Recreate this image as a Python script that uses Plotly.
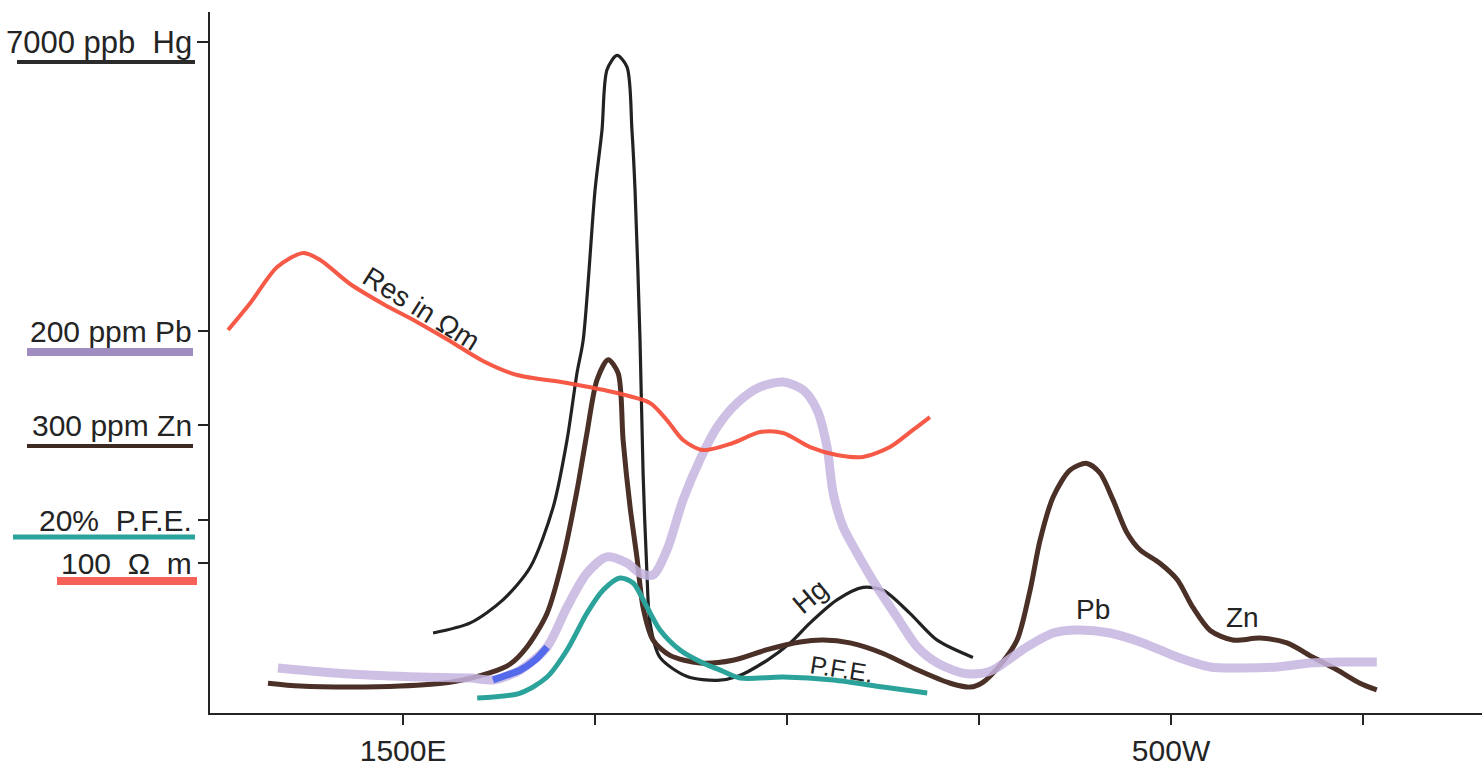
import plotly.graph_objects as go

# ---------------- data (station in m: east negative, west positive) ----------------
tick_stations = [-1500, -1000, -500, 0, 500, 1000]
tick_labels = ["1500E", "", "", "", "500W", ""]

# Hg (ppb)
hg_station = [-1422, -1325, -1240, -1169, -1109, -1073, -1047, -1031, -1000, -982, -969,
              -943, -917, -904, -896, -883, -875, -865, -857, -831, -760, -682, -630,
              -552, -492, -440, -370, -302, -250, -180, -109, -16]
hg_ppb = [835, 940, 1180, 1520, 2150, 2850, 3550, 3890, 5460, 6080, 6710,
          6860, 6740, 6080, 5460, 3890, 2500, 1460, 940, 580, 380, 340, 380,
          550, 730, 940, 1180, 1310, 1280, 1040, 760, 580]

# Zn (ppm)
zn_station = [-1852, -1768, -1638, -1508, -1378, -1273, -1221, -1177, -1125, -1083, -1047,
              -1021, -995, -966, -940, -927, -909, -891, -875, -849, -805, -727, -641,
              -552, -466, -406, -336, -250, -161, -75, -23, 10, 55, 99, 133, 159, 193,
              237, 281, 315, 349, 385, 419, 471, 516, 557, 602, 661, 732, 802, 870,
              932, 992, 1036]
zn_ppm = [31, 28, 27, 28, 32, 42, 51, 69, 104, 162, 232,
          292, 347, 368, 354, 284, 215, 162, 110, 76, 60, 52, 55,
          66, 74, 76, 73, 62, 45, 31, 27, 32, 50, 76, 128, 180, 225,
          253, 260, 250, 222, 188, 170, 156, 139, 110, 86, 76, 78, 73, 58,
          45, 31, 24]

# Pb (ppm)
pb_station = [-1826, -1638, -1456, -1325, -1266, -1195, -1125, -1073, -1021, -969, -917,
              -883, -849, -813, -771, -727, -682, -630, -570, -510, -458, -422, -396,
              -380, -354, -318, -266, -214, -161, -109, -42, 10, 36, 125, 193, 255,
              341, 427, 516, 602, 687, 776, 862, 948, 1036]
pb_ppm = [23.6, 20.4, 18.8, 18.3, 17.3, 22.5, 34.6, 55.5, 73.3, 81.7, 78.5,
          73.3, 72.3, 85.3, 111.5, 132.5, 149.7, 162.3, 170.7, 173.3, 169.1, 158.7, 139.3,
          115.2, 97.4, 83.8, 66.0, 50.3, 34.6, 26.2, 20.9, 20.9, 22.5, 34.6, 41.9, 43.5,
          41.9, 36.7, 29.3, 24.1, 23.6, 24.1, 26.2, 26.7, 26.7]

# Pb segment inked in blue (ppm)
pb_blue_station = [-1266, -1229, -1195, -1156, -1125]
pb_blue_ppm = [17.3, 19.9, 22.5, 27.8, 34.6]

# P.F.E. (%)
pfe_station = [-1307, -1195, -1125, -1073, -1021, -979, -935, -901, -865, -831, -779,
               -719, -674, -622, -510, -380, -250, -135]
pfe_pct = [1.55, 2.07, 3.73, 6.53, 10.36, 12.74, 13.99, 13.47, 10.98, 8.60, 6.53,
           5.18, 4.45, 3.63, 3.73, 3.42, 2.69, 2.07]

# Resistivity (ohm m)
res_station = [-1956, -1898, -1828, -1760, -1716, -1638, -1552, -1464, -1378, -1292, -1203,
               -1073, -943, -857, -813, -771, -719, -641, -570, -510, -440, -370, -302,
               -232, -172, -128]
res_ohm_m = [255.3, 273.3, 297.3, 306.7, 302.0, 286.0, 272.7, 260.7, 248.0, 234.7, 225.3,
             220.0, 213.3, 206.7, 195.3, 182.0, 175.3, 180.0, 187.3, 186.7, 177.3, 172.0, 170.7,
             177.3, 188.7, 197.3]

# scale reference values shown on the left
scale_hg, scale_pb, scale_zn, scale_pfe, scale_res = 7000, 200, 300, 20, 100

# ---------------- layout geometry (pixels of the 1482x767 page) ----------------
W, H = 1482, 767
L, R, T, B = 210, 0, 12, 54
PW, PH = W - L - R, H - T - B
AX_Y = H - B  # pixel row of the x axis


def px_x(px):
    return (px - L) / PW


def px_y(py):
    return (AX_Y - py) / PH


def top_of(value, tick_py):
    # axis range top so that `value` sits at pixel row tick_py
    return value * PH / (AX_Y - tick_py)


INK = "#242424"
FONT = "Liberation Sans"

fig = go.Figure()


def spline(color, width):
    return dict(color=color, width=width, shape="spline", smoothing=0.8)


fig.add_trace(go.Scatter(x=pb_station, y=pb_ppm, yaxis="y3", mode="lines",
                         line=spline("rgba(198,180,223,0.85)", 9), hoverinfo="skip"))
fig.add_trace(go.Scatter(x=pb_blue_station, y=pb_blue_ppm, yaxis="y3", mode="lines",
                         line=spline("rgba(55,85,235,0.8)", 7), hoverinfo="skip"))
fig.add_trace(go.Scatter(x=pfe_station, y=pfe_pct, yaxis="y4", mode="lines",
                         line=spline("#2ca39a", 5), hoverinfo="skip"))
fig.add_trace(go.Scatter(x=res_station, y=res_ohm_m, yaxis="y5", mode="lines",
                         line=spline("rgba(245,80,60,0.95)", 4), hoverinfo="skip"))
fig.add_trace(go.Scatter(x=zn_station, y=zn_ppm, yaxis="y2", mode="lines",
                         line=spline("#4a3027", 5), hoverinfo="skip"))
fig.add_trace(go.Scatter(x=hg_station, y=hg_ppb, yaxis="y", mode="lines",
                         line=spline("#222222", 3.2), hoverinfo="skip"))


def yax(rng, tick, main=False):
    d = dict(range=[0, rng], tickvals=[tick], ticks="outside", ticklen=11, tickwidth=2,
             tickcolor=INK, showticklabels=False, showgrid=False, zeroline=False,
             fixedrange=True)
    if main:
        d.update(showline=True, linecolor=INK, linewidth=2)
    else:
        d.update(overlaying="y", side="left", showline=False)
    return d


fig.update_layout(
    width=W, height=H,
    margin=dict(l=L, r=R, t=T, b=B, pad=0),
    paper_bgcolor="white", plot_bgcolor="white",
    showlegend=False,
    font=dict(family=FONT, color=INK),
    xaxis=dict(range=[-2003, 1310], tickvals=tick_stations, ticktext=tick_labels,
               ticks="outside", ticklen=10, tickwidth=2, tickcolor=INK,
               showline=True, linecolor=INK, linewidth=2, showgrid=False,
               zeroline=False, tickfont=dict(size=30, color=INK, family=FONT),
               fixedrange=True),
    yaxis=yax(top_of(scale_hg, 42), scale_hg, main=True),
    yaxis2=yax(top_of(scale_zn, 425), scale_zn),
    yaxis3=yax(top_of(scale_pb, 331), scale_pb),
    yaxis4=yax(top_of(scale_pfe, 520), scale_pfe),
    yaxis5=yax(top_of(scale_res, 563), scale_res),
)

# left scale labels with coloured underlines
labels = [
    ("7000 ppb  Hg", "y", scale_hg, 31, 17, 195, 62, "#2b2b2b", 4),
    ("200 ppm Pb", "y3", scale_pb, 30, 27, 193, 352, "rgba(150,128,185,0.9)", 8),
    ("300 ppm Zn", "y2", scale_zn, 30, 27, 193, 446, "#3d2a22", 4),
    ("20%  P.F.E.", "y4", scale_pfe, 30, 13, 195, 537, "#2ca39a", 5),
    ("100  Ω  m", "y5", scale_res, 30, 57, 197, 581, "rgba(245,80,70,0.9)", 8),
]
for text, yref, val, size, ux0, ux1, uy, ucol, uw in labels:
    fig.add_annotation(text=text, xref="paper", x=px_x(194), xanchor="right",
                       yref=yref, y=val, yanchor="middle", showarrow=False,
                       font=dict(size=size, color=INK, family=FONT))
    fig.add_shape(type="line", xref="paper", yref="paper",
                  x0=px_x(ux0), x1=px_x(ux1), y0=px_y(uy), y1=px_y(uy),
                  line=dict(color=ucol, width=uw))

# curve labels
curve_labels = [
    ("Res in Ωm", "y5", -1453, 270, 32, 28),
    ("Hg", "y", -440, 1220, -40, 28),
    ("P.F.E.", "y4", -357, 4.6, 9, 25),
    ("Pb", "y3", 297, 54, 0, 28),
    ("Zn", "y2", 685, 100, 0, 28),
]
for text, yref, xv, yv, ang, size in curve_labels:
    fig.add_annotation(text=text, xref="x", x=xv, yref=yref, y=yv, textangle=ang,
                       showarrow=False, font=dict(size=size, color=INK, family=FONT))

fig.write_html("out.html", post_script="document.body.style.margin='0px';",
               config={"displayModeBar": False})
